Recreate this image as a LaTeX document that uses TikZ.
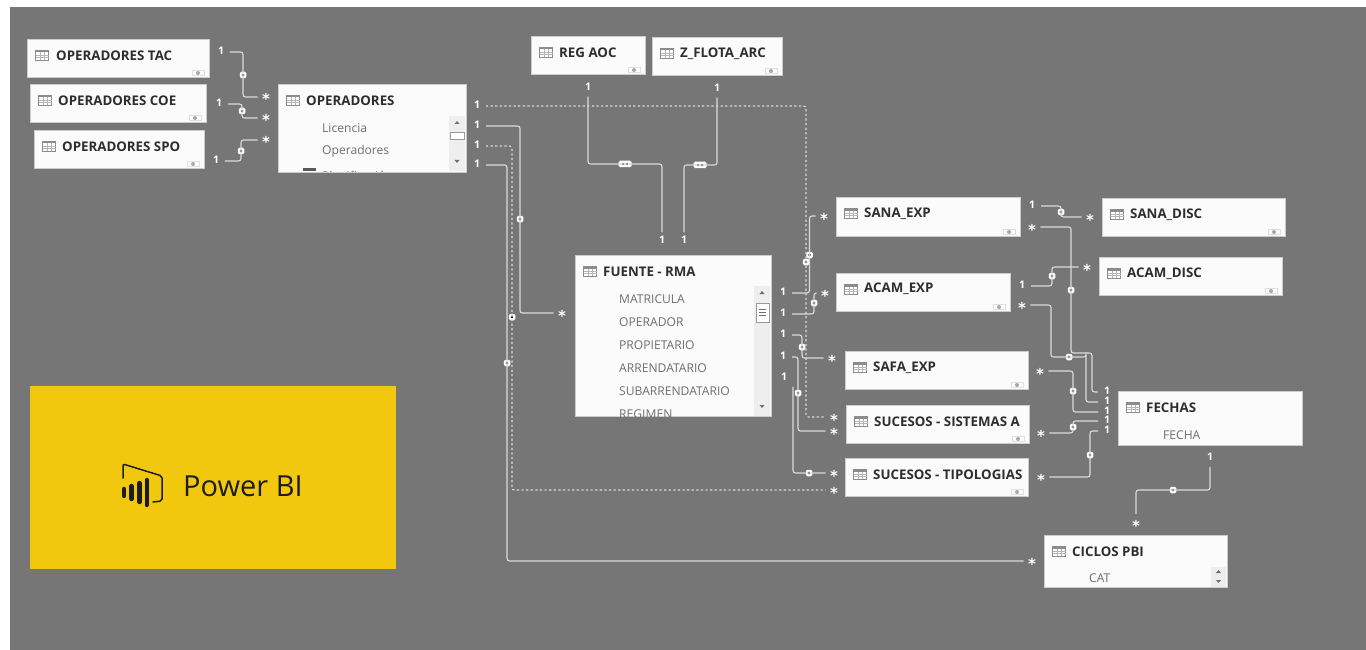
\documentclass[tikz,border=0pt]{standalone}
\usepackage{fontspec}
\usepackage{xcolor}
\usetikzlibrary{arrows.meta,positioning,calc}
\setmainfont{Open Sans}
\newfontfamily\starfont{DejaVu Sans}
\definecolor{Canvas}{HTML}{767676}
\definecolor{Card}{HTML}{FBFBFB}
\definecolor{CardEdge}{HTML}{CCCCCC}
\definecolor{Wire}{HTML}{DADADA}
\definecolor{Title}{HTML}{2E2E2E}
\definecolor{Field}{HTML}{6E6E6E}
\definecolor{Scroll}{HTML}{EEEEEE}
\definecolor{Yellow}{HTML}{F2C80F}
\definecolor{Ink}{HTML}{1C1C24}
\tikzset{
  tbl/.style={draw=CardEdge,fill=Card,anchor=north west,inner sep=0pt,outer sep=0pt,line width=0.8pt},
  tbltitle/.style={anchor=west,inner sep=0pt,text=Title,font=\fontsize{13.3}{15}\selectfont\bfseries},
  fld/.style={anchor=west,inner sep=0pt,text=Field,font=\fontsize{12.1}{14}\selectfont},
  one/.style={text=white,font=\fontsize{10.5}{11}\selectfont\bfseries,text height=7.5pt,text depth=3pt,inner xsep=6pt,inner ysep=3.5pt,outer sep=0pt},
  many/.style={text=white,font=\starfont\fontsize{15}{10}\selectfont\bfseries,text height=16pt,text depth=0pt,inner xsep=4.5pt,inner ysep=1pt,outer sep=0pt},
  rel/.style={draw=Wire,line width=1.1pt,rounded corners=2.5pt},
  reldash/.style={rel,dash pattern=on 2.2pt off 2.4pt},
  relmark/.style={fill=white,rounded corners=1.5pt,minimum size=6.5pt,inner sep=0pt,
    path picture={\fill[black] (path picture bounding box.center) circle (1.4);}},
  relboth/.style={fill=white,rounded corners=1.5pt,minimum width=13pt,minimum height=6.5pt,inner sep=0pt,
    path picture={\fill[black] ($(path picture bounding box.center)+(-4,0)$) -- ++(3,-2) -- ++(0,4) -- cycle;
      \fill[black] ($(path picture bounding box.center)+(4,0)$) -- ++(-3,-2) -- ++(0,4) -- cycle;}},
  tblicon/.pic={
    \fill[white] (-6.5,-5) rectangle (6.5,5);
    \draw[draw=Field!80,line width=0.7pt] (-6.5,-5) rectangle (6.5,5);
    \fill[Field!80] (-6.5,-5) rectangle (6.5,-2.5);
    \draw[draw=Field!50,line width=0.4pt] (-6.5,0) -- (6.5,0) (-6.5,2.5) -- (6.5,2.5) (-2.2,-2.5) -- (-2.2,5) (2.2,-2.5) -- (2.2,5);
  },
  tbleye/.pic={
    \draw[draw=CardEdge!60,line width=0.5pt] (-6,-2.5) rectangle (6,2.5);
    \fill[Field!60] (0,0) circle (2);
  }
}
\begin{document}
\begin{tikzpicture}[x=1pt,y=-1pt]
  \useasboundingbox (0,0) rectangle (1366,650);
  \fill[white] (0,0) rectangle (1366,650);
  \fill[Canvas] (10,7) rectangle (1366,650);

  \node[tbl,minimum width=182,minimum height=38] (opTac) at (27,39) {};
  \node[tbl,minimum width=176,minimum height=38] (opCoe) at (30,84) {};
  \node[tbl,minimum width=170,minimum height=38] (opSpo) at (34,130) {};
  \node[tbl,minimum width=188,minimum height=88] (oper) at (278,84) {};
  \node[tbl,minimum width=114,minimum height=38] (regAoc) at (531,36) {};
  \node[tbl,minimum width=130,minimum height=38] (zFlota) at (652,37) {};
  \node[tbl,minimum width=196,minimum height=161] (fuente) at (575,255) {};
  \node[tbl,minimum width=184,minimum height=39] (sanaExp) at (836,197) {};
  \node[tbl,minimum width=174,minimum height=38] (acamExp) at (836,273) {};
  \node[tbl,minimum width=183,minimum height=38] (safaExp) at (845,351) {};
  \node[tbl,minimum width=183,minimum height=38] (sucSis) at (846,405) {};
  \node[tbl,minimum width=183,minimum height=38] (sucTip) at (845,458) {};
  \node[tbl,minimum width=183,minimum height=38] (sanaDisc) at (1102,198) {};
  \node[tbl,minimum width=183,minimum height=38] (acamDisc) at (1099,257) {};
  \node[tbl,minimum width=184,minimum height=54] (fechas) at (1118,391) {};
  \node[tbl,minimum width=183,minimum height=52] (ciclos) at (1044,535) {};

  \foreach \tb in {opTac,opCoe,opSpo,oper,regAoc,zFlota,fuente,sanaExp,acamExp,safaExp,sucSis,sucTip,sanaDisc,acamDisc,fechas,ciclos}
    \pic at ([shift={(15,16)}]\tb.north west) {tblicon};
  \foreach \tb in {opTac,opCoe,opSpo,regAoc,zFlota,sanaExp,acamExp,safaExp,sucSis,sucTip,sanaDisc,acamDisc}
    \pic at ([shift={(-11,-4)}]\tb.south east) {tbleye};

  \node[tbltitle] (opTacT) at ([shift={(29,17)}]opTac.north west) {OPERADORES TAC};
  \node[tbltitle] (opCoeT) at ([shift={(28,17)}]opCoe.north west) {OPERADORES COE};
  \node[tbltitle] (opSpoT) at ([shift={(28,17)}]opSpo.north west) {OPERADORES SPO};
  \node[tbltitle] (operT) at ([shift={(28,17)}]oper.north west) {OPERADORES};
  \node[tbltitle] (regAocT) at ([shift={(28,17)}]regAoc.north west) {REG AOC};
  \node[tbltitle] (zFlotaT) at ([shift={(28,17)}]zFlota.north west) {Z\_FLOTA\_ARC};
  \node[tbltitle] (fuenteT) at ([shift={(28,17)}]fuente.north west) {FUENTE - RMA};
  \node[tbltitle] (sanaExpT) at ([shift={(28,17)}]sanaExp.north west) {SANA\_EXP};
  \node[tbltitle] (acamExpT) at ([shift={(28,16)}]acamExp.north west) {ACAM\_EXP};
  \node[tbltitle] (safaExpT) at ([shift={(28,17)}]safaExp.north west) {SAFA\_EXP};
  \begin{scope}
    \clip (sucSis.north west) rectangle (1023,443);
    \node[tbltitle] (sucSisT) at ([shift={(28,17)}]sucSis.north west) {SUCESOS - SISTEMAS A};
  \end{scope}
  \begin{scope}
    \clip (sucTip.north west) rectangle (1022,496);
    \node[tbltitle] (sucTipT) at ([shift={(28,17)}]sucTip.north west) {SUCESOS - TIPOLOGIAS};
  \end{scope}
  \node[tbltitle] (sanaDiscT) at ([shift={(28,17)}]sanaDisc.north west) {SANA\_DISC};
  \node[tbltitle] (acamDiscT) at ([shift={(28,17)}]acamDisc.north west) {ACAM\_DISC};
  \node[tbltitle] (fechasT) at ([shift={(28,17)}]fechas.north west) {FECHAS};
  \node[tbltitle] (ciclosT) at ([shift={(28,17)}]ciclos.north west) {CICLOS PBI};

  \begin{scope}
    \clip (oper.north west) rectangle (oper.south east);
    \node[fld] (operA) at (322,128) {Licencia};
    \node[fld] (operB) at (322,151) {Operadores};
    \node[fld] (operC) at (322,176) {Planificación};
    \fill[Title!80] (303,168) rectangle (316,171);
  \end{scope}
  \begin{scope}
    \clip (fuente.north west) rectangle (fuente.south east);
    \node[fld] (fuenteA) at (619,299) {MATRICULA};
    \node[fld] (fuenteB) at (619,322) {OPERADOR};
    \node[fld] (fuenteC) at (619,345) {PROPIETARIO};
    \node[fld] (fuenteD) at (619,368) {ARRENDATARIO};
    \node[fld] (fuenteE) at (619,391) {SUBARRENDATARIO};
    \node[fld] (fuenteF) at (619,414) {REGIMEN};
  \end{scope}
  \node[fld] (fechasA) at (1163,435.5) {FECHA};
  \node[fld] (ciclosA) at (1089,578.5) {CAT};

  \fill[Scroll] (449,116) rectangle (465,171.5);
  \draw[draw=Field!70,fill=white,line width=0.5pt] (450,132) rectangle (464,139);
  \fill[Field] (457,121) -- (454.5,124) -- (459.5,124) -- cycle;
  \fill[Field] (457,163) -- (454.5,160) -- (459.5,160) -- cycle;
  \fill[Scroll] (754,286) rectangle (770,415.5);
  \draw[draw=Field!70,fill=white,line width=0.5pt] (756,303) rectangle (769,322);
  \draw[draw=Field,line width=0.5pt] (759,309) -- (766,309) (759,312) -- (766,312) (759,315) -- (766,315);
  \fill[Field] (762,291) -- (759.5,294) -- (764.5,294) -- cycle;
  \fill[Field] (762,408) -- (759.5,405) -- (764.5,405) -- cycle;
  \fill[Scroll] (1211,567) rectangle (1226,586.5);
  \fill[Field] (1218.5,570) -- (1216,573) -- (1221,573) -- cycle;
  \fill[Field] (1218.5,583) -- (1216,580) -- (1221,580) -- cycle;

  \node[one] (tacOne) at (221,52) {1};
  \node[many] (tacMany) at (266,97) {*};
  \node[relmark] (tacRel) at (243,75) {};
  \draw[rel] (tacOne.east) -| (tacRel.center) |- (tacMany.west);
  \node[one] (coeOne) at (219,104) {1};
  \node[many] (coeMany) at (266,118) {*};
  \node[relmark] (coeRel) at (242,111) {};
  \draw[rel] (coeOne.east) -| (coeRel.center) |- (coeMany.west);
  \node[one] (spoOne) at (216,161) {1};
  \node[many] (spoMany) at (266,140) {*};
  \node[relmark] (spoRel) at (241,151) {};
  \draw[rel] (spoOne.east) -| (spoRel.center) |- (spoMany.west);

  \node[one] (operOneA) at (477,106) {1};
  \node[one] (operOneB) at (477,126) {1};
  \node[one] (operOneC) at (477,146) {1};
  \node[one] (operOneD) at (477,165) {1};
  \node[many] (fuenteMany) at (562,313) {*};
  \node[many] (sisManyA) at (834,417) {*};
  \node[many] (tipManyA) at (834,490) {*};
  \node[many] (cicManyA) at (1032,561) {*};
  \node[relmark] (operRelA) at (806,262) {};
  \node[relmark] (operRelB) at (520,219) {};
  \node[relmark] (operRelC) at (512,317) {};
  \node[relmark] (operRelD) at (507,363) {};
  \draw[reldash] (operOneA.east) -| (operRelA.center) |- (sisManyA.west);
  \draw[rel] (operOneB.east) -| (operRelB.center) |- (fuenteMany.west);
  \draw[reldash] (operOneC.east) -| (operRelC.center) |- (tipManyA.west);
  \draw[rel] (operOneD.east) -| (operRelD.center) |- (cicManyA.west);

  \node[one] (regOne) at (588,88) {1};
  \node[one] (fuenteOneA) at (662,241) {1};
  \node[relboth] (regRel) at (625,164) {};
  \draw[rel] (regOne.south) |- (regRel.center) -| (fuenteOneA.north);
  \node[one] (zfOne) at (717,89) {1};
  \node[one] (fuenteOneB) at (684,241) {1};
  \node[relboth] (zfRel) at (700,165) {};
  \draw[rel] (zfOne.south) |- (zfRel.center) -| (fuenteOneB.north);

  \node[one] (fuenteOneC) at (783,293) {1};
  \node[many] (sanaMany) at (824,216) {*};
  \node[relmark] (sanaRel) at (809.5,255) {};
  \draw[rel] (fuenteOneC.east) -| (sanaRel.center) |- (sanaMany.west);
  \node[one] (fuenteOneD) at (783,314) {1};
  \node[many] (acamMany) at (825,293) {*};
  \node[relmark] (acamRel) at (814,303) {};
  \draw[rel] (fuenteOneD.east) -| (acamRel.center) |- (acamMany.west);
  \node[one] (fuenteOneE) at (783,335) {1};
  \node[many] (safaMany) at (832,358) {*};
  \node[relmark] (safaRel) at (802,347) {};
  \draw[rel] (fuenteOneE.east) -| (safaRel.center) |- (safaMany.west);
  \node[one] (fuenteOneF) at (783,357) {1};
  \node[many] (sisManyB) at (834,431) {*};
  \node[relmark] (sisRel) at (798,393) {};
  \draw[rel] (fuenteOneF.east) -| (sisRel.center) |- (sisManyB.west);
  \node[one] (fuenteOneG) at (784,378) {1};
  \node[many] (tipManyB) at (834,473) {*};
  \node[relmark] (tipRel) at (809,473) {};
  \draw[rel] (fuenteOneG.south east) |- (tipRel.center) -- (tipManyB.west);

  \node[one] (sanaOne) at (1032,206) {1};
  \node[many] (sanaDiscMany) at (1090,217) {*};
  \node[relmark] (sanaDiscRel) at (1061,212) {};
  \draw[rel] (sanaOne.east) -| (sanaDiscRel.center) |- (sanaDiscMany.west);
  \node[one] (acamOne) at (1022,286) {1};
  \node[many] (acamDiscMany) at (1087,267) {*};
  \node[relmark] (acamDiscRel) at (1052,276) {};
  \draw[rel] (acamOne.east) -| (acamDiscRel.center) |- (acamDiscMany.west);

  \node[one] (fechasOneA) at (1107,392) {1};
  \node[one] (fechasOneB) at (1107,402) {1};
  \node[one] (fechasOneC) at (1107,412) {1};
  \node[one] (fechasOneD) at (1107,421) {1};
  \node[one] (fechasOneE) at (1107,431) {1};
  \node[many] (sanaFecMany) at (1032,227) {*};
  \node[many] (acamFecMany) at (1022,305) {*};
  \node[many] (safaFecMany) at (1040,371) {*};
  \node[many] (sisFecMany) at (1041,433) {*};
  \node[many] (tipFecMany) at (1041,477) {*};
  \node[relmark] (sanaFecRel) at (1071,290) {};
  \node[relmark] (acamFecRel) at (1069,357) {};
  \node[relmark] (safaFecRel) at (1073,391) {};
  \node[relmark] (sisFecRel) at (1073,427) {};
  \node[relmark] (tipFecRel) at (1090,455) {};
  \draw[rel] (sanaFecMany.east) -| (sanaFecRel.center) |- (1092,353) |- (fechasOneA.west);
  \draw[rel] (acamFecMany.east) -| (1051,357) -- (acamFecRel.center) -| (1086,357) |- (fechasOneB.west);
  \draw[rel] (safaFecMany.east) -| (safaFecRel.center) |- (fechasOneC.west);
  \draw[rel] (sisFecMany.east) -| (sisFecRel.center) |- (fechasOneD.west);
  \draw[rel] (tipFecMany.east) -| (tipFecRel.center) |- (fechasOneE.west);

  \node[one] (fechasOneF) at (1210,458) {1};
  \node[many] (cicManyB) at (1136,523) {*};
  \node[relmark] (cicRel) at (1173,490) {};
  \draw[rel] (fechasOneF.south) |- (cicRel.center) -| (cicManyB.north);

  \node[fill=Yellow,anchor=north west,minimum width=366,minimum height=183,inner sep=0pt] (pbi) at (30,386) {};
  \node[anchor=west,inner sep=0pt,text=Ink,font=\fontsize{29}{31}\selectfont] (pbiText) at (183,486) {Power BI};
  \draw[Ink,line width=1.5pt,rounded corners=2pt,line cap=round] (123,478) -- (123,464) -- (162,476) -- (162,501) -- (153,502);
  \draw[Ink,line width=4.4pt,line cap=round] (124,489) -- (124,496) (131.5,486) -- (131.5,499) (139.5,483) -- (139.5,502) (146.8,480) -- (146.8,505);
\end{tikzpicture}
\end{document}
